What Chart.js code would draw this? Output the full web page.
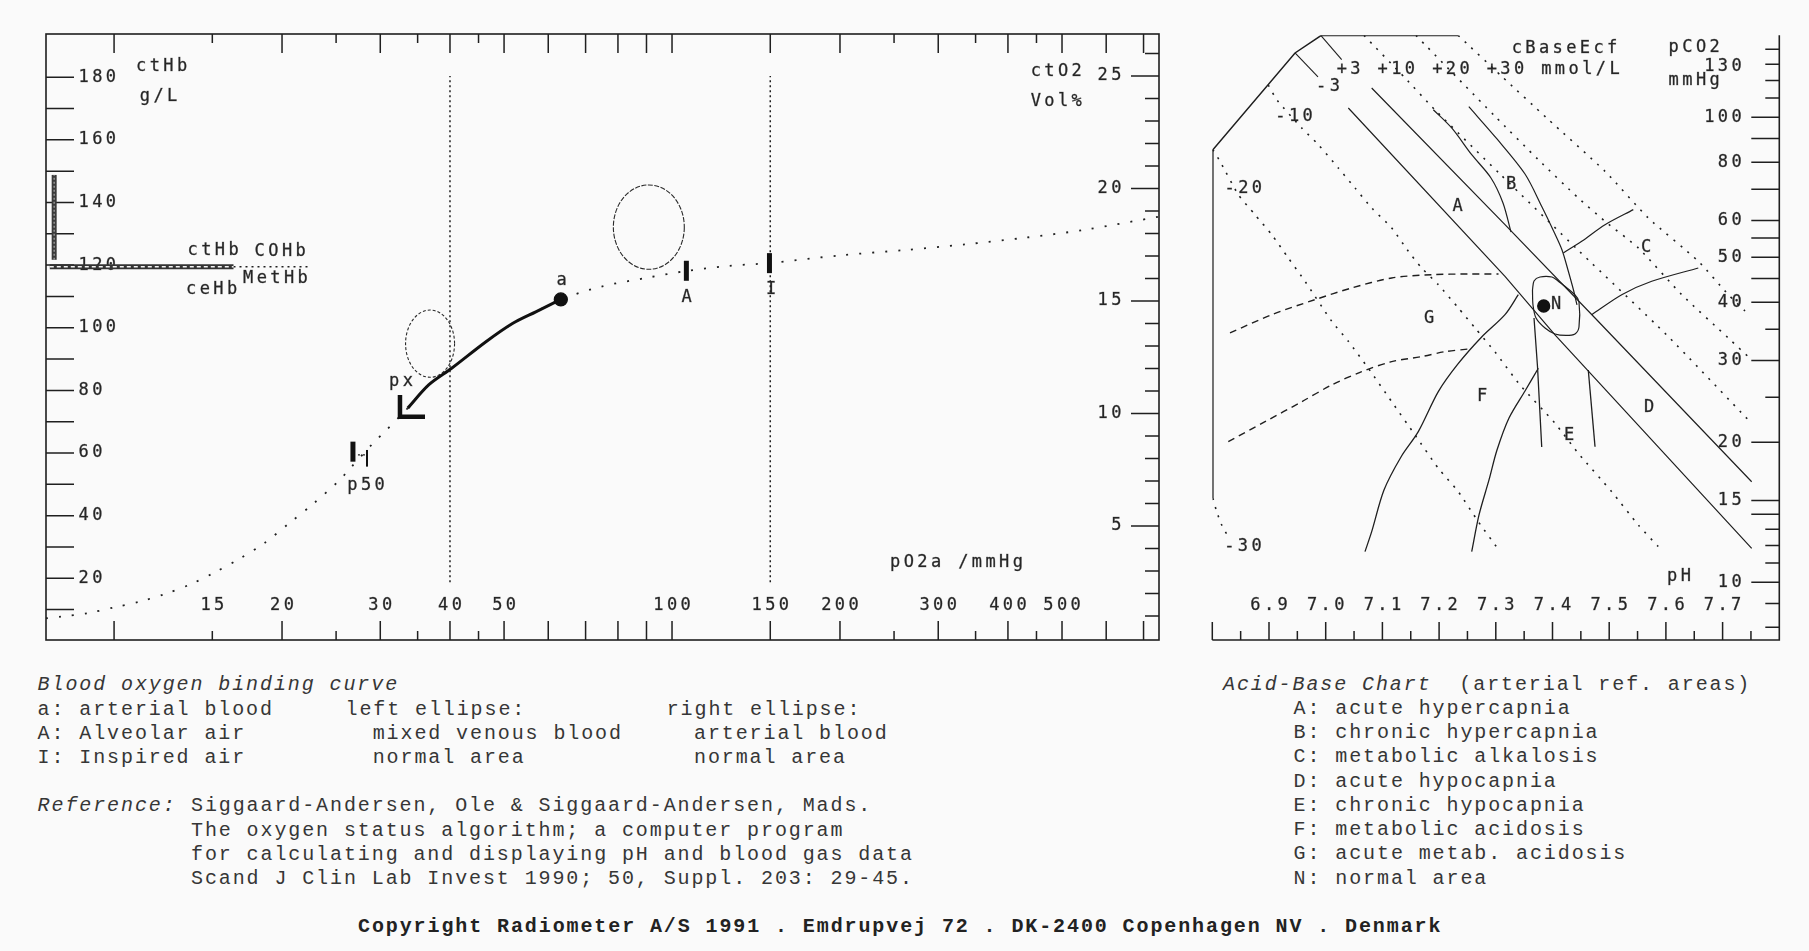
<!DOCTYPE html>
<html>
<head>
<meta charset="utf-8">
<script src="https://cdn.jsdelivr.net/npm/chart.js@4.4.1/dist/chart.umd.min.js"></script>
<style>
  html, body { margin: 0; padding: 0; background: #fafafa; }
  body { width: 1809px; height: 951px; position: relative; overflow: hidden; }
  canvas { position: absolute; top: 0; }
  #oxy { left: 0; }
  #ab { left: 1190px; }
  .t { position: absolute; font-family: 'Liberation Mono', 'Courier New', monospace; font-size: 20px;
       letter-spacing: 1.9px; color: #363636; white-space: pre; line-height: 24px; }
  .i { font-style: italic; }
  .b { font-weight: bold; color: #222; }
</style>
</head>
<body>
<canvas id="oxy" width="1190" height="660" style="width:1190px;height:660px"></canvas>
<canvas id="ab" width="619" height="660" style="width:619px;height:660px"></canvas>

<div class="t i" style="left:37.6px;top:673px">Blood oxygen binding curve</div>
<div class="t" style="left:37.6px;top:698px">a: arterial blood</div>
<div class="t" style="left:345.5px;top:698px">left ellipse:</div>
<div class="t" style="left:666.7px;top:698px">right ellipse:</div>
<div class="t" style="left:37.6px;top:722px">A: Alveolar air</div>
<div class="t" style="left:372.7px;top:722px">mixed venous blood</div>
<div class="t" style="left:694px;top:722px">arterial blood</div>
<div class="t" style="left:37.6px;top:746px">I: Inspired air</div>
<div class="t" style="left:372.7px;top:746px">normal area</div>
<div class="t" style="left:694px;top:746px">normal area</div>
<div class="t i" style="left:37.6px;top:794px">Reference:</div>
<div class="t" style="left:191px;top:794px">Siggaard-Andersen, Ole &amp; Siggaard-Andersen, Mads.</div>
<div class="t" style="left:191px;top:819px">The oxygen status algorithm; a computer program</div>
<div class="t" style="left:191px;top:843px">for calculating and displaying pH and blood gas data</div>
<div class="t" style="left:191px;top:867px">Scand J Clin Lab Invest 1990; 50, Suppl. 203: 29-45.</div>
<div class="t b" style="left:358px;top:915px">Copyright Radiometer A/S 1991 . Emdrupvej 72 . DK-2400 Copenhagen NV . Denmark</div>

<div class="t" style="left:1223px;top:673px"><span class="i">Acid-Base Chart</span>  (arterial ref. areas)</div>
<div class="t" style="left:1293.6px;top:697px">A: acute hypercapnia</div>
<div class="t" style="left:1293.6px;top:721px">B: chronic hypercapnia</div>
<div class="t" style="left:1293.6px;top:745px">C: metabolic alkalosis</div>
<div class="t" style="left:1293.6px;top:770px">D: acute hypocapnia</div>
<div class="t" style="left:1293.6px;top:794px">E: chronic hypocapnia</div>
<div class="t" style="left:1293.6px;top:818px">F: metabolic acidosis</div>
<div class="t" style="left:1293.6px;top:842px">G: acute metab. acidosis</div>
<div class="t" style="left:1293.6px;top:867px">N: normal area</div>

<script>
// ---------- Oxygen binding chart data (pO2 in mmHg, ctO2 in Vol%, ctHb in g/L) ----------
const o2CurvePO2  = [7.55, 8.04, 8.98, 10.03, 11.12, 12.34, 13.74, 15.11, 16.82, 18.57, 20.59, 22.73, 25.27, 26.48, 29.12, 30.55, 32.28, 33.6, 36.63, 40.27, 46.4, 51.85, 57.0, 63.2, 74.6, 90.9, 105.8, 126.0, 149.5, 202.2, 262.7, 335.0, 428.3, 547.0, 746];
const o2CurveCtO2 = [0.90, 0.97, 1.13, 1.39, 1.64, 1.98, 2.42, 2.92, 3.56, 4.23, 5.12, 5.98, 7.00, 7.56, 8.68, 9.19, 9.79, 10.24, 11.27, 12.01, 13.19, 14.01, 14.52, 15.07, 15.64, 16.05, 16.33, 16.56, 16.69, 17.04, 17.27, 17.52, 17.81, 18.16, 18.75];

// arterial point a and the path from a towards the px arrow
const arterialPoint = [63.2, 15.07];
const arrowPO2  = [33.6, 36.63, 40.27, 46.4, 51.85, 57.0, 63.2];
const arrowCtO2 = [10.24, 11.27, 12.01, 13.19, 14.01, 14.52, 15.07];
const arrowHeadPO2  = [32.54, 32.54, 36.08];
const arrowHeadCtO2 = [10.82, 9.86, 9.86];

// A (alveolar), I (inspired) and p50 markers
const markerA   = [[106.1, 15.90], [106.1, 16.79]];
const markerI   = [[149.5, 16.24], [149.5, 17.13]];
const p50Thick  = [[26.8, 7.86], [26.8, 8.75]];
const p50Thin   = [[28.4, 7.64], [28.4, 8.38]];
const p50Link   = [[26.8, 8.16], [28.4, 8.16]];

// reference pO2 lines
const refLine40  = [[40, 2.5], [40, 25.0]];
const refLine150 = [[150, 2.5], [150, 25.0]];

// ctHb bars (left axis, g/L)
const ctHbRange   = [[7.81, 121.7], [7.81, 148.8]];
const ceHbBar     = [[7.67, 119.5], [16.37, 119.5]];
const dysHbBar    = [[16.37, 119.5], [22.45, 119.5]];

// normal-area ellipses: pO2 extent and ctO2 extent
const venousEllipsePO2    = [33.3, 40.76];
const venousEllipseCtO2   = [11.61, 14.60];
const arterialEllipsePO2  = [78.5, 105.2];
const arterialEllipseCtO2 = [16.41, 20.16];

// axis ticks
const po2Ticks      = [10, 15, 20, 25, 30, 35, 40, 45, 50, 60, 70, 80, 90, 100, 150, 200, 250, 300, 350, 400, 450, 500, 600, 700];
const po2ShortTicks = [15, 25, 35, 45, 250, 350, 450];
const po2Labels     = [15, 20, 30, 40, 50, 100, 150, 200, 300, 400, 500];
const ctHbTicks     = [10, 20, 30, 40, 50, 60, 70, 80, 90, 100, 110, 120, 130, 140, 150, 160, 170, 180];
const ctHbLabels    = [20, 40, 60, 80, 100, 120, 140, 160, 180];
const ctO2Ticks     = [1, 2, 3, 4, 5, 6, 7, 8, 9, 10, 11, 12, 13, 14, 15, 16, 17, 18, 19, 20, 21, 22, 23, 24, 25, 26];
const ctO2Labels    = [5, 10, 15, 20, 25];

// ---------- Acid-base chart data (pH, pCO2 mmHg) ----------
const abBoundary = [[6.801, 15.16], [6.801, 85.17], [6.9459, 137.5], [6.9917, 149.9], [7.2339, 149.9]];
const beM30 = [[6.801, 15.16], [6.8078, 14.19], [6.8166, 13.28], [6.8282, 12.52]];
const beM20 = [[6.801, 85.17], [6.8136, 80.42], [6.8459, 68.17], [6.8753, 61.74], [6.9048, 55.92], [6.934, 49.83], [6.9635, 44.39], [7.0106, 36.42], [7.0399, 32.98], [7.0751, 28.86], [7.1164, 24.45], [7.1575, 20.74], [7.1986, 17.59], [7.2339, 15.66], [7.2691, 13.50], [7.3074, 11.64]];
const beM10 = [[6.8988, 117.3], [6.9141, 108.9], [6.9577, 94.85], [6.987, 87.32], [7.0222, 77.81], [7.0517, 70.47], [7.0811, 63.83], [7.1164, 57.80], [7.1457, 51.51], [7.1693, 47.42], [7.1986, 43.65], [7.2339, 38.90], [7.2633, 35.24], [7.2986, 31.28], [7.3427, 26.57], [7.4044, 21.98], [7.4455, 18.94], [7.5044, 15.66], [7.5513, 13.28], [7.5866, 11.93]];
const beM3Head = [[6.9459, 137.5], [6.9864, 122.1]];
const beM3  = [[7.0399, 104.7], [7.3162, 45.50], [7.4044, 34.03], [7.7513, 11.83]];
const beP3Head = [[6.9917, 149.9], [7.0282, 133.0]];
const beP3  = [[7.0811, 115.6], [7.3162, 58.75], [7.4750, 37.02], [7.7513, 16.45]];
const beP10 = [[7.0676, 149.9], [7.1399, 121.5], [7.1928, 103.7], [7.3074, 75.51], [7.4485, 51.33], [7.6014, 34.03], [7.7483, 22.15]];
const beP20 = [[7.1593, 149.9], [7.2986, 100.5], [7.375, 81.06], [7.4455, 67.06], [7.4926, 59.76], [7.5513, 52.36], [7.6279, 41.55], [7.7101, 33.52], [7.7513, 30.07]];
const beP30 = [[7.2339, 149.9], [7.3104, 122.5], [7.3898, 99.65], [7.4926, 76.53], [7.569, 60.74], [7.6571, 49.02], [7.7101, 41.55], [7.7395, 38.32]];

const areaBLeft  = [[7.1898, 103.8], [7.2222, 94.85], [7.2575, 83.09], [7.2915, 74.05], [7.3127, 65.42], [7.3268, 56.66]];
const areaBRight = [[7.2524, 105.4], [7.3021, 89.82], [7.3515, 75.51], [7.3815, 64.14], [7.4027, 56.66], [7.4168, 51.84], [7.4273, 46.95], [7.437, 42.52], [7.4432, 39.48]];
const areaCUpper = [[7.4191, 51.08], [7.4515, 54.12], [7.4926, 58.75], [7.5425, 63.30]];
const areaCLower = [[7.4691, 37.63], [7.5221, 41.55], [7.575, 44.39], [7.6571, 47.42]];
const areaN = [[7.3647, 42.52], [7.3674, 44.46], [7.378, 45.35], [7.3991, 45.35], [7.4097, 44.46], [7.4397, 41.48], [7.4467, 40.07], [7.4467, 35.40], [7.4397, 34.20], [7.4238, 33.95], [7.4044, 34.20], [7.3868, 35.23], [7.3709, 37.02], [7.3656, 39.48], [7.3647, 42.52]];
const areaELeft  = [[7.3674, 37.02], [7.3736, 29.04], [7.381, 19.54]];
const areaERight = [[7.4631, 28.61], [7.475, 19.57]];
const areaFOuter = [[7.3397, 41.55], [7.3162, 37.63], [7.2751, 33.69], [7.2333, 29.48], [7.1986, 25.70], [7.1633, 21.08], [7.1328, 18.60], [7.1028, 15.79], [7.0811, 12.85], [7.0693, 11.64]];
const areaFInner = [[7.375, 28.86], [7.3515, 25.79], [7.3233, 22.56], [7.3021, 19.25], [7.288, 16.60], [7.2704, 13.96], [7.2575, 11.64]];
const areaGUpper = [[6.8312, 34.37], [6.9048, 37.63], [6.9811, 40.53], [7.0459, 42.95], [7.1164, 45.13], [7.187, 45.87], [7.2515, 46.03], [7.3048, 46.03]];
const areaGLower = [[6.8282, 20.06], [6.893, 22.15], [6.9577, 24.45], [7.0106, 26.57], [7.0635, 28.38], [7.1164, 29.82], [7.1693, 30.57], [7.2104, 31.33], [7.2527, 31.75]];
const patientPoint = [[7.3845, 39.28]];

const phTicks    = [6.8, 6.85, 6.9, 6.95, 7.0, 7.05, 7.1, 7.15, 7.2, 7.25, 7.3, 7.35, 7.4, 7.45, 7.5, 7.55, 7.6, 7.65, 7.7, 7.75];
const phLabels   = [6.9, 7.0, 7.1, 7.2, 7.3, 7.4, 7.5, 7.6, 7.7];
const pco2Ticks  = [8, 9, 10, 11, 12, 13, 14, 15, 20, 25, 30, 35, 40, 45, 50, 55, 60, 70, 80, 90, 100, 110, 120, 130, 140];
const pco2ShortTicks = [8, 9, 11, 12, 13, 25, 35, 110, 120, 130, 140];
const pco2Labels = [10, 15, 20, 30, 40, 50, 60, 80, 100, 130];

// ---------- text placed inside the plots ----------
const oxyNotes = [
  ['ctHb', 10.95, 25.44, 'left'], ['g/L', 11.12, 24.09, 'left'],
  ['ctO2', 542.6, 25.19, 'right'], ['Vol%', 542.6, 23.86, 'right'],
  ['pO2a /mmHg', 245.9, 3.36, 'left'],
  ['a', 63.4, 15.89, 'center'], ['A', 106.2, 15.16, 'center'], ['I', 150.5, 15.49, 'center'],
  ['px', 32.68, 11.44, 'center'], ['p50', 28.29, 6.78, 'center'],
  ['ctHb', 13.54, 17.23, 'left'], ['COHb', 17.86, 17.20, 'left'],
  ['ceHb', 13.46, 15.53, 'left'], ['MetHb', 17.03, 15.98, 'left']
];
const abNotes = [
  ['A', 7.2325, 64.14, 'center'], ['B', 7.3268, 71.53, 'center'], ['C', 7.5649, 52.36, 'center'],
  ['D', 7.5702, 23.71, 'center'], ['E', 7.4291, 20.64, 'center'], ['F', 7.2757, 25.03, 'center'],
  ['G', 7.1822, 36.84, 'center'], ['N', 7.4062, 39.48, 'center'],
  ['-3', 7.0041, 116.2, 'center'], ['-10', 6.9441, 100.5, 'center'], ['-20', 6.8547, 70.37, 'center'], ['-30', 6.8541, 11.93, 'center'],
  ['+3 +10 +20 +30 mmol/L', 7.0194, 126.7, 'left'], ['cBaseEcf', 7.3280, 140.3, 'left'],
  ['pCO2', 7.6048, 141.0, 'left'], ['mmHg', 7.6048, 119.7, 'left'], ['pH', 7.6231, 10.27, 'center']
];

// ---------- helpers ----------
const INK = '#1f1f1f';
const SPACING = 3.4;
const zip = (xs, ys) => xs.map((x, i) => ({ x, y: ys[i] }));
const pts = p => p.map(([x, y]) => ({ x, y }));

function label(ctx, s, x, y, align) {
  ctx.save();
  ctx.font = '17px "DejaVu Sans Mono", monospace';
  ctx.letterSpacing = SPACING + 'px';
  ctx.fillStyle = '#262626';
  ctx.strokeStyle = 'rgba(38,38,38,0.55)';
  ctx.lineWidth = 0.5;
  ctx.textBaseline = 'middle';
  ctx.textAlign = 'left';
  const w = ctx.measureText(s).width - SPACING;
  let x0 = x;
  if (align === 'right') x0 = x - w;
  else if (align === 'center') x0 = x - w / 2;
  ctx.fillText(s, x0, y);
  ctx.strokeText(s, x0, y);
  ctx.restore();
}

function line(data, opts) {
  return Object.assign({
    data, borderColor: INK, borderWidth: 1.3, pointRadius: 0, tension: 0,
    borderCapStyle: 'butt', fill: false
  }, opts || {});
}

// ---------- oxygen chart ----------
const oxyDecor = {
  id: 'oxyDecor',
  beforeDatasetsDraw(chart) {
    const { ctx, chartArea: a, scales } = chart;
    const sx = scales.x, sy = scales.y, sh = scales.yHb;
    ctx.save();
    ctx.strokeStyle = INK;
    ctx.lineWidth = 1.6;
    ctx.strokeRect(a.left, a.top, a.right - a.left, a.bottom - a.top);
    ctx.lineWidth = 1.5;
    ctx.beginPath();
    po2Ticks.forEach(v => {
      const x = sx.getPixelForValue(v);
      const len = po2ShortTicks.includes(v) ? 9 : 19;
      ctx.moveTo(x, a.bottom); ctx.lineTo(x, a.bottom - len);
      ctx.moveTo(x, a.top); ctx.lineTo(x, a.top + len);
    });
    ctHbTicks.forEach(v => {
      const y = sh.getPixelForValue(v);
      ctx.moveTo(a.left, y); ctx.lineTo(a.left + 28, y);
    });
    ctO2Ticks.forEach(v => {
      const y = sy.getPixelForValue(v);
      const len = ctO2Labels.includes(v) ? 28 : 14;
      ctx.moveTo(a.right, y); ctx.lineTo(a.right - len, y);
    });
    ctx.stroke();
    ctx.restore();

    po2Labels.forEach(v => label(ctx, String(v), sx.getPixelForValue(v), a.bottom - 34, 'center'));
    ctHbLabels.forEach(v => label(ctx, String(v), a.left + 32.5, sh.getPixelForValue(v), 'left'));
    ctO2Labels.forEach(v => label(ctx, String(v), a.right - 37.6, sy.getPixelForValue(v), 'right'));
    oxyNotes.forEach(([s, px, py, al]) => label(ctx, s, sx.getPixelForValue(px), sy.getPixelForValue(py), al));
  },
  afterDatasetsDraw(chart) {
    const { ctx, scales } = chart;
    const sx = scales.x, sy = scales.y;
    const ell = (po2, ct, dash) => {
      const x1 = sx.getPixelForValue(po2[0]), x2 = sx.getPixelForValue(po2[1]);
      const y1 = sy.getPixelForValue(ct[0]), y2 = sy.getPixelForValue(ct[1]);
      ctx.save();
      ctx.strokeStyle = '#2a2a2a';
      ctx.lineWidth = 1.1;
      ctx.setLineDash(dash);
      ctx.beginPath();
      ctx.ellipse((x1 + x2) / 2, (y1 + y2) / 2, Math.abs(x2 - x1) / 2, Math.abs(y2 - y1) / 2, 0, 0, Math.PI * 2);
      ctx.stroke();
      ctx.restore();
    };
    ell(venousEllipsePO2, venousEllipseCtO2, [3, 2]);
    ell(arterialEllipsePO2, arterialEllipseCtO2, [5, 1.5]);
  }
};

new Chart(document.getElementById('oxy'), {
  type: 'line',
  data: {
    datasets: [
      line(pts(ceHbBar), { yAxisID: 'yHb', borderColor: '#f4f4f4', borderWidth: 1.6, borderDash: [4, 3], order: 0 }),
      line(pts(ctHbRange), { yAxisID: 'yHb', borderColor: '#9a9a9a', borderWidth: 1.4, borderDash: [2, 2], order: 0 }),
      line(pts(ceHbBar), { yAxisID: 'yHb', borderColor: '#333', borderWidth: 5, order: 1 }),
      line(pts(ctHbRange), { yAxisID: 'yHb', borderColor: '#3a3a3a', borderWidth: 5, order: 1 }),
      line(pts(dysHbBar), { yAxisID: 'yHb', borderWidth: 1.5, borderDash: [2, 4], order: 1 }),
      line(pts(refLine40), { borderWidth: 1.5, borderDash: [2, 3], order: 2 }),
      line(pts(refLine150), { borderWidth: 1.5, borderDash: [2, 3], order: 2 }),
      line(zip(o2CurvePO2, o2CurveCtO2), { borderWidth: 1.8, borderDash: [2, 11], tension: 0.3, order: 2 }),
      line(zip(arrowPO2, arrowCtO2), { borderWidth: 3, tension: 0.3, borderColor: '#111', order: 1 }),
      line(zip(arrowHeadPO2, arrowHeadCtO2), { borderWidth: 4.5, borderColor: '#111', borderJoinStyle: 'miter', order: 1 }),
      line(pts(markerA), { borderWidth: 5, borderColor: '#111', order: 1 }),
      line(pts(markerI), { borderWidth: 5, borderColor: '#111', order: 1 }),
      line(pts(p50Thick), { borderWidth: 5, borderColor: '#111', order: 1 }),
      line(pts(p50Thin), { borderWidth: 2, borderColor: '#111', order: 1 }),
      line(pts(p50Link), { borderWidth: 1.2, borderDash: [2, 3], order: 1 }),
      line([{ x: arterialPoint[0], y: arterialPoint[1] }], { showLine: false, pointRadius: 6.5, pointBackgroundColor: '#111', pointBorderColor: '#111', order: 0 })
    ]
  },
  options: {
    responsive: false, animation: false, events: [], devicePixelRatio: 1,
    layout: { padding: { left: 46, top: 34, right: 31, bottom: 20 } },
    plugins: { legend: { display: false }, tooltip: { enabled: false }, title: { display: false } },
    scales: {
      x: { type: 'logarithmic', min: 7.551, max: 746.1, display: false, bounds: 'data' },
      y: { type: 'linear', min: -0.067, max: 26.87, display: false, bounds: 'data' },
      yHb: { type: 'linear', min: 0.29, max: 193.8, display: false, bounds: 'data', position: 'left' }
    }
  },
  plugins: [oxyDecor]
});

// ---------- acid-base chart ----------
const abDecor = {
  id: 'abDecor',
  beforeDatasetsDraw(chart) {
    const { ctx, chartArea: a, scales } = chart;
    const sx = scales.x, sy = scales.y;
    ctx.save();
    ctx.strokeStyle = INK;
    ctx.lineWidth = 1.6;
    ctx.beginPath();
    ctx.moveTo(a.left, a.bottom); ctx.lineTo(a.right, a.bottom); ctx.lineTo(a.right, a.top);
    ctx.stroke();
    ctx.lineWidth = 1.5;
    ctx.beginPath();
    phTicks.forEach(v => {
      const x = sx.getPixelForValue(v);
      const major = Math.abs(v * 10 - Math.round(v * 10)) < 1e-6;
      ctx.moveTo(x, a.bottom); ctx.lineTo(x, a.bottom - (major ? 18 : 9));
    });
    pco2Ticks.forEach(v => {
      const y = sy.getPixelForValue(v);
      const len = pco2ShortTicks.includes(v) ? 14 : 28;
      ctx.moveTo(a.right, y); ctx.lineTo(a.right - len, y);
    });
    ctx.stroke();
    ctx.restore();

    phLabels.forEach(v => label(ctx, v.toFixed(1), sx.getPixelForValue(v), a.bottom - 34, 'center'));
    pco2Labels.forEach(v => label(ctx, String(v), a.right - 37.6, sy.getPixelForValue(v) + (v === 130 ? 2 : 0), 'right'));
    abNotes.forEach(([s, px, py, al]) => label(ctx, s, sx.getPixelForValue(px), sy.getPixelForValue(py), al));
  }
};

const DOTS = [2, 7];
new Chart(document.getElementById('ab'), {
  type: 'line',
  data: {
    datasets: [
      line(pts(abBoundary), { borderWidth: 1.5 }),
      line(pts(beM30), { borderDash: DOTS, borderWidth: 1.6, tension: 0.3 }),
      line(pts(beM20), { borderDash: DOTS, borderWidth: 1.6, tension: 0.2 }),
      line(pts(beM10), { borderDash: DOTS, borderWidth: 1.6, tension: 0.2 }),
      line(pts(beM3Head), { borderWidth: 1.1 }),
      line(pts(beM3), { borderWidth: 1.2 }),
      line(pts(beP3Head), { borderWidth: 1.1 }),
      line(pts(beP3), { borderWidth: 1.2 }),
      line(pts(beP10), { borderDash: DOTS, borderWidth: 1.6, tension: 0.2 }),
      line(pts(beP20), { borderDash: DOTS, borderWidth: 1.6, tension: 0.2 }),
      line(pts(beP30), { borderDash: DOTS, borderWidth: 1.6, tension: 0.2 }),
      line(pts(areaBLeft), { borderWidth: 1.2, tension: 0.3 }),
      line(pts(areaBRight), { borderWidth: 1.2, tension: 0.3 }),
      line(pts(areaCUpper), { borderWidth: 1.2, tension: 0.3 }),
      line(pts(areaCLower), { borderWidth: 1.2, tension: 0.3 }),
      line(pts(areaN), { borderWidth: 1.2, tension: 0.3 }),
      line(pts(areaELeft), { borderWidth: 1.3 }),
      line(pts(areaERight), { borderWidth: 1.3 }),
      line(pts(areaFOuter), { borderWidth: 1.3, tension: 0.3 }),
      line(pts(areaFInner), { borderWidth: 1.3, tension: 0.3 }),
      line(pts(areaGUpper), { borderWidth: 1.4, borderDash: [7, 5], tension: 0.3 }),
      line(pts(areaGLower), { borderWidth: 1.4, borderDash: [7, 5], tension: 0.3 }),
      line(pts(patientPoint), { showLine: false, pointRadius: 6, pointBackgroundColor: '#111', pointBorderColor: '#111' })
    ]
  },
  options: {
    responsive: false, animation: false, events: [], devicePixelRatio: 1,
    layout: { padding: { left: 22.3, top: 35.3, right: 29.7, bottom: 20 } },
    plugins: { legend: { display: false }, tooltip: { enabled: false }, title: { display: false } },
    scales: {
      x: { type: 'linear', min: 6.8, max: 7.8, display: false, bounds: 'data' },
      y: { type: 'logarithmic', min: 7.514, max: 150.08, display: false, bounds: 'data' }
    }
  },
  plugins: [abDecor]
});
</script>
</body>
</html>
